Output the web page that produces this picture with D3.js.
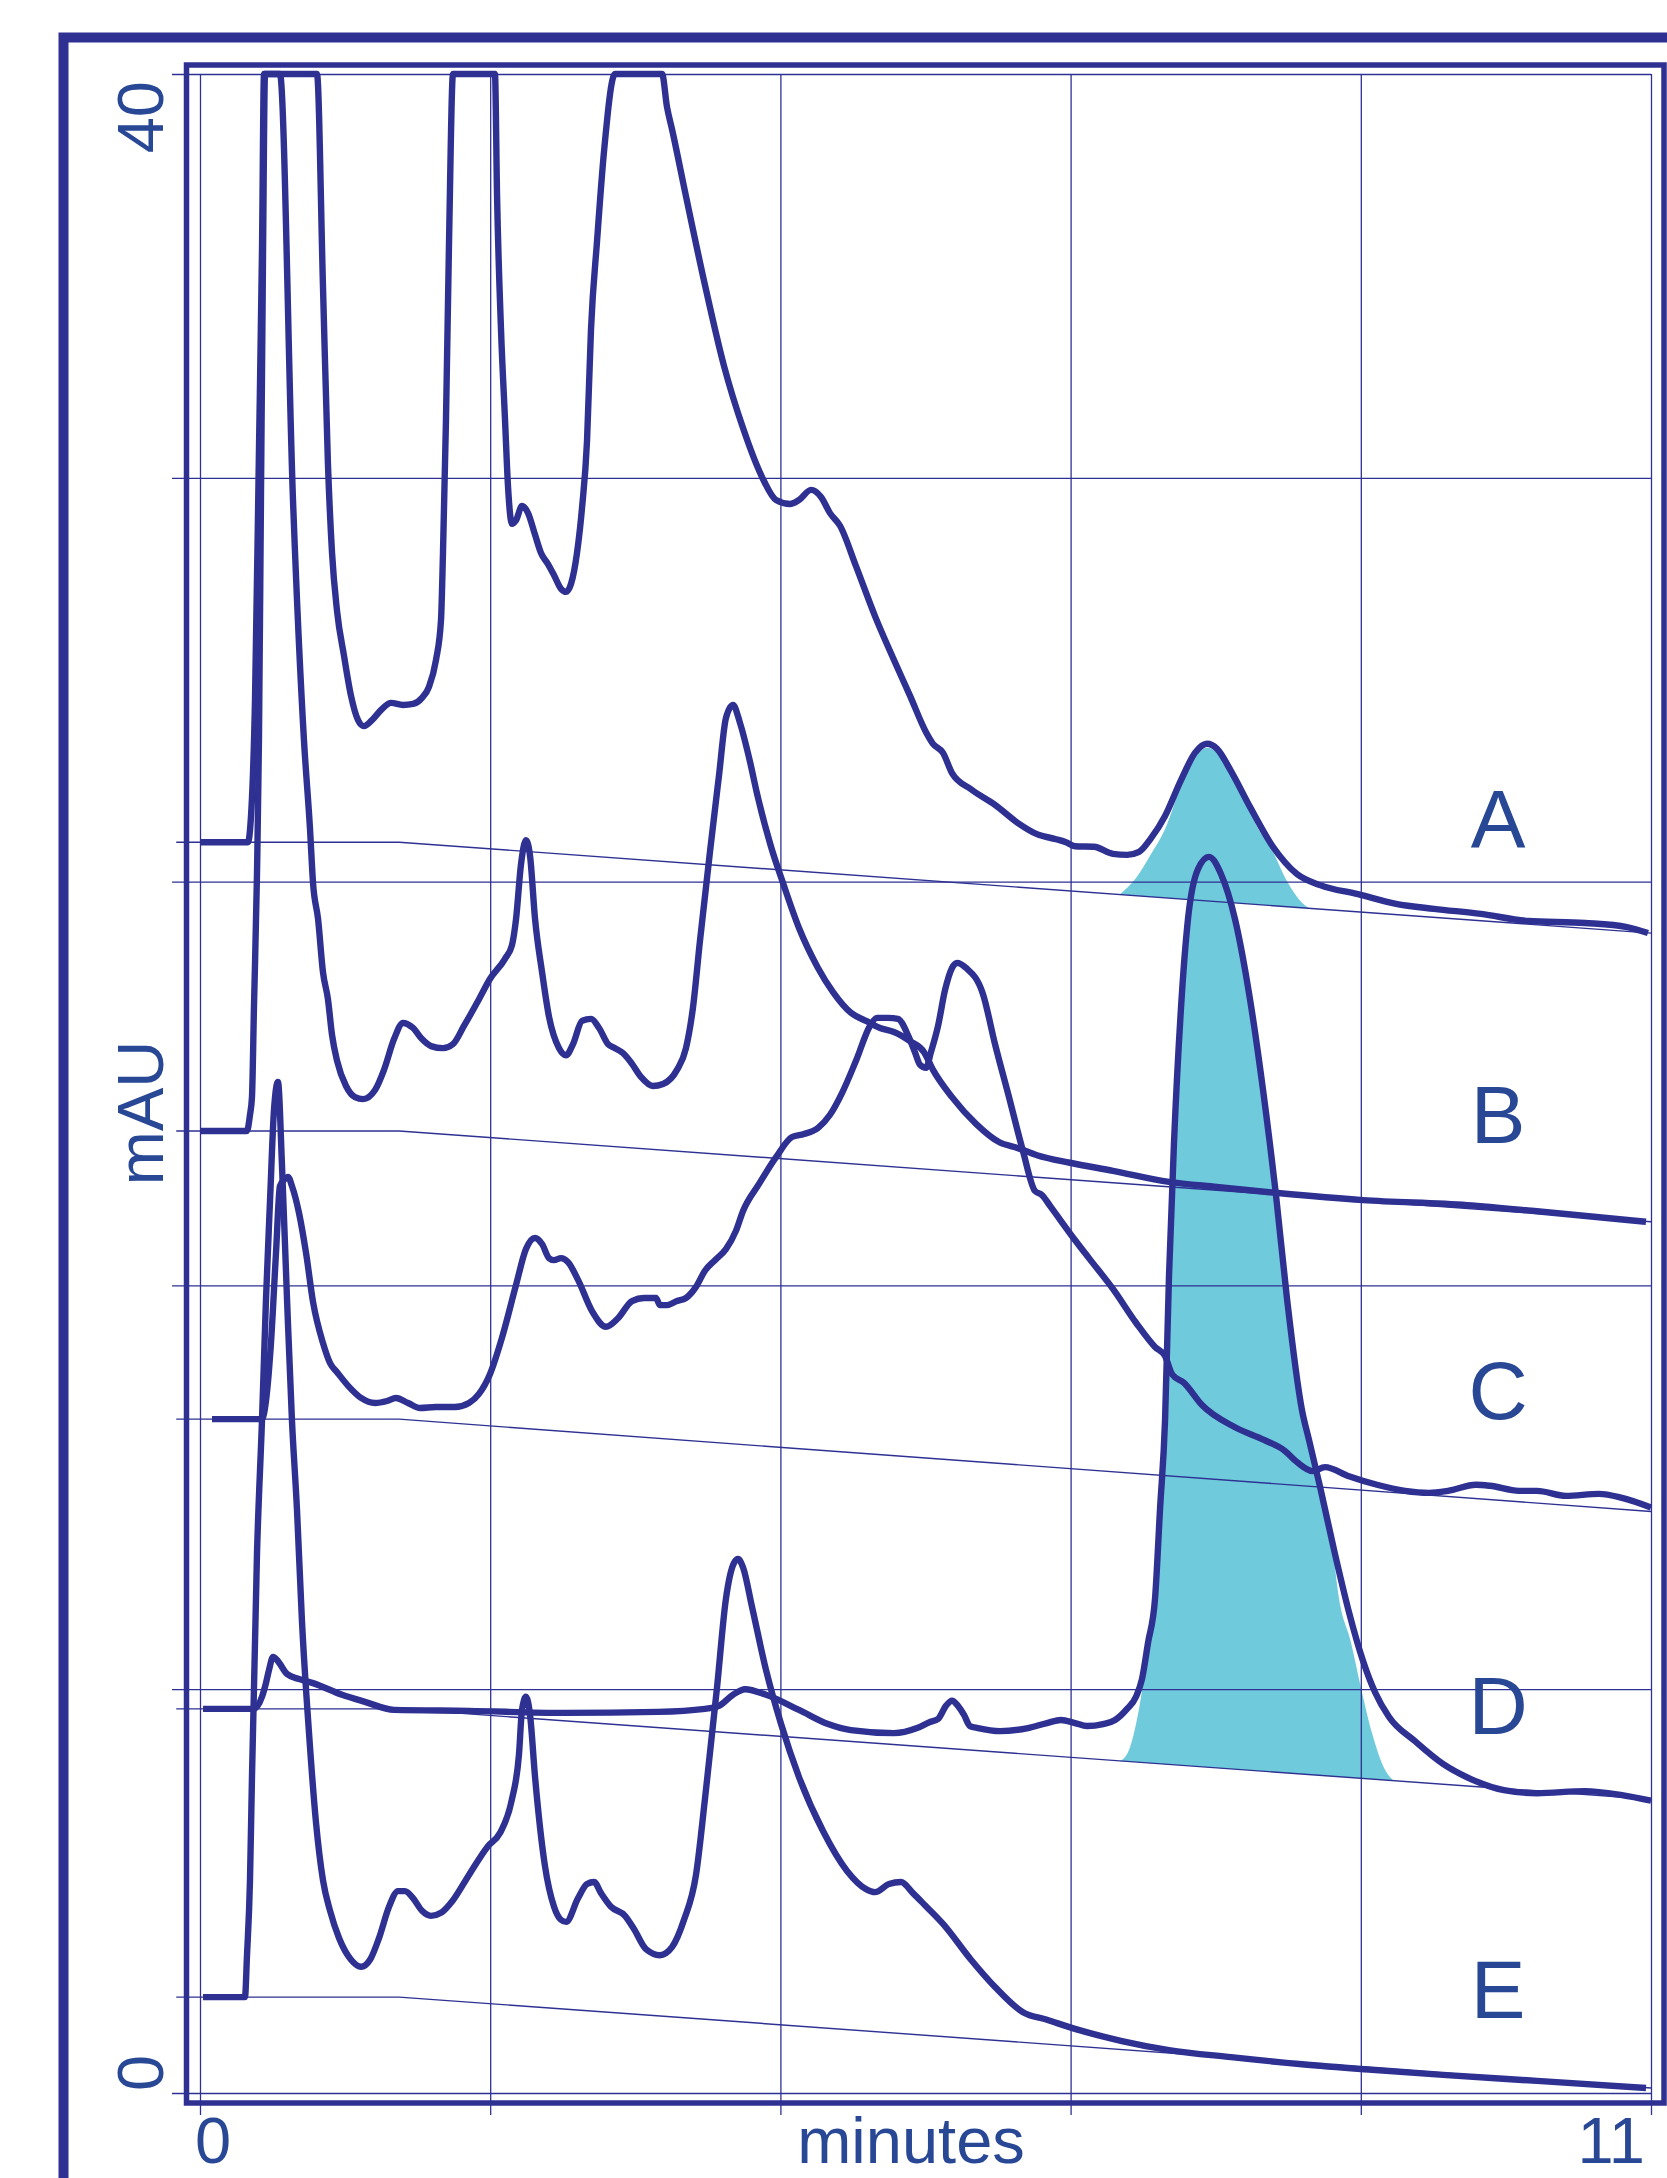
<!DOCTYPE html>
<html><head><meta charset="utf-8">
<script src="https://cdn.jsdelivr.net/npm/d3@7"></script>
<style>html,body{margin:0;padding:0;background:#fff}svg{display:block}</style>
</head><body><svg id="chart" width="1667" height="2178"></svg>
<script>
// ---------- data ----------
const traceNames = ["A","B","C","D","E"];
const baselineStart = [24.78, 19.06, 13.35, 7.61, 1.90];   // mAU at start of run
const baselineEnd   = [22.98, 17.26, 11.52, 5.82, 0.10];   // mAU at 11 min
const baselineKnee = 1.51;     // minutes where drift begins
const baselineFrom = -0.18;
const xGridTicks = [0, 2.2, 4.4, 6.6, 8.8, 11];
const yGridTicks = [0, 8, 16, 24, 32, 40];
const xTickLabels = [{v:0, t:"0"}, {v:11, t:"11"}];
const yTickLabels = [{v:0, t:"0"}, {v:40, t:"40"}];
const xTitle = "minutes";
const yTitle = "mAU";

const traceA = [[0,24.78],[0.364,24.78],[0.379,25.02],[0.417,27.6],[0.447,32.55],[0.47,36.51],[0.485,40],[0.887,40],[0.932,35.82],[0.97,32.27],[1.001,30.51],[1.039,29.36],[1.092,28.47],[1.145,27.68],[1.198,27.2],[1.243,27.08],[1.304,27.2],[1.38,27.42],[1.448,27.54],[1.539,27.5],[1.615,27.52],[1.683,27.64],[1.736,27.86],[1.789,28.39],[1.827,29.18],[1.842,30.51],[1.865,33.17],[1.888,36.69],[1.918,40],[2.236,40],[2.252,37.58],[2.282,34.93],[2.312,33.17],[2.335,31.83],[2.365,31.09],[2.396,31.16],[2.441,31.44],[2.487,31.3],[2.54,30.87],[2.585,30.51],[2.638,30.29],[2.684,30.07],[2.737,29.8],[2.775,29.74],[2.813,29.9],[2.858,30.51],[2.896,31.4],[2.934,32.73],[2.964,34.93],[3.01,36.69],[3.063,38.47],[3.146,40],[3.503,40],[3.54,39.35],[3.578,38.91],[3.684,37.58],[3.828,35.82],[3.972,34.22],[4.116,32.99],[4.26,32.02],[4.367,31.56],[4.473,31.48],[4.541,31.56],[4.632,31.76],[4.708,31.62],[4.776,31.3],[4.852,31.05],[4.973,30.25],[5.117,29.26],[5.261,28.39],[5.383,27.68],[5.504,26.96],[5.557,26.73],[5.633,26.55],[5.701,26.15],[5.845,25.83],[6.027,25.52],[6.201,25.16],[6.345,24.94],[6.489,24.84],[6.565,24.78],[6.633,24.7],[6.777,24.69],[6.921,24.55],[7.028,24.53],[7.119,24.59],[7.21,24.86],[7.316,25.3],[7.437,26.01],[7.543,26.55],[7.634,26.73],[7.71,26.63],[7.816,26.19],[7.96,25.48],[8.134,24.69],[8.316,24.15],[8.491,23.93],[8.779,23.75],[9.067,23.56],[9.355,23.46],[9.711,23.36],[10.068,23.22],[10.5,23.18],[10.818,23.1],[10.977,22.98]];

const traceB = [[0,19.06],[0.356,19.06],[0.379,19.38],[0.394,19.73],[0.409,21.5],[0.432,24.15],[0.447,26.81],[0.462,31.56],[0.478,36.51],[0.493,40],[0.606,40],[0.705,31.56],[0.788,26.81],[0.834,25.04],[0.857,23.97],[0.895,23.26],[0.932,22.21],[0.97,21.67],[1.001,20.96],[1.039,20.45],[1.107,19.95],[1.175,19.73],[1.236,19.69],[1.327,19.87],[1.395,20.27],[1.471,20.88],[1.539,21.2],[1.615,21.1],[1.683,20.88],[1.751,20.74],[1.842,20.7],[1.918,20.78],[2.001,21.14],[2.115,21.67],[2.198,22.07],[2.312,22.47],[2.365,22.74],[2.396,23.26],[2.433,24.33],[2.471,24.82],[2.502,24.51],[2.54,23.26],[2.593,22.21],[2.646,21.32],[2.722,20.7],[2.775,20.56],[2.828,20.78],[2.896,21.24],[2.964,21.28],[3.025,21.1],[3.093,20.78],[3.146,20.7],[3.207,20.6],[3.275,20.39],[3.343,20.13],[3.434,19.95],[3.51,19.99],[3.616,20.27],[3.684,20.7],[3.737,21.5],[3.79,22.82],[3.866,24.59],[3.934,26.09],[3.987,27.24],[4.041,27.5],[4.094,27.14],[4.17,26.37],[4.223,25.74],[4.329,24.69],[4.42,23.97],[4.541,23.08],[4.685,22.29],[4.799,21.81],[4.935,21.4],[5.049,21.24],[5.155,21.1],[5.261,21.02],[5.382,20.84],[5.489,20.62],[5.557,20.27],[5.701,19.73],[5.883,19.2],[6.057,18.84],[6.201,18.72],[6.345,18.58],[6.595,18.43],[6.921,18.27],[7.346,18.05],[7.71,17.95],[8.172,17.83],[8.817,17.69],[9.605,17.59],[10.135,17.47],[10.962,17.26]];

const traceC = [[0.091,13.35],[0.47,13.35],[0.5,13.71],[0.538,14.86],[0.576,16.64],[0.606,17.97],[0.637,18.09],[0.667,18.15],[0.697,17.97],[0.751,17.43],[0.804,16.64],[0.857,15.67],[0.932,14.86],[0.986,14.46],[1.039,14.28],[1.13,13.99],[1.221,13.77],[1.327,13.67],[1.418,13.71],[1.486,13.77],[1.577,13.67],[1.668,13.57],[1.789,13.59],[1.933,13.59],[2.039,13.67],[2.115,13.85],[2.198,14.24],[2.289,14.96],[2.396,16.01],[2.471,16.72],[2.54,16.94],[2.593,16.82],[2.646,16.54],[2.684,16.5],[2.737,16.54],[2.79,16.46],[2.866,16.11],[2.972,15.49],[3.078,15.18],[3.169,15.35],[3.275,15.69],[3.366,15.75],[3.457,15.75],[3.487,15.61],[3.54,15.61],[3.616,15.69],[3.684,15.75],[3.76,15.97],[3.828,16.29],[3.904,16.5],[3.987,16.72],[4.063,17.08],[4.116,17.47],[4.238,18.01],[4.367,18.54],[4.488,18.94],[4.579,19.0],[4.685,19.12],[4.776,19.38],[4.867,19.81],[4.973,20.45],[5.079,21.14],[5.132,21.3],[5.216,21.3],[5.291,21.28],[5.367,20.96],[5.42,20.62],[5.458,20.37],[5.504,20.31],[5.541,20.62],[5.595,21.14],[5.648,21.85],[5.701,22.29],[5.739,22.39],[5.807,22.29],[5.936,21.77],[6.027,20.78],[6.133,19.73],[6.239,18.66],[6.33,17.87],[6.383,17.79],[6.451,17.55],[6.633,16.9],[6.739,16.54],[6.921,15.93],[7.096,15.26],[7.24,14.78],[7.316,14.6],[7.369,14.24],[7.46,14.07],[7.596,13.63],[7.846,13.19],[8.066,12.94],[8.225,12.72],[8.316,12.5],[8.437,12.32],[8.528,12.4],[8.71,12.22],[8.923,12.05],[9.135,11.93],[9.317,11.89],[9.461,11.93],[9.673,12.05],[9.779,12.03],[9.999,11.93],[10.136,11.93],[10.356,11.83],[10.606,11.87],[10.78,11.79],[11.0,11.6]];

const traceD = [[0.023,7.61],[0.409,7.61],[0.47,7.85],[0.5,8.12],[0.523,8.38],[0.554,8.64],[0.584,8.58],[0.606,8.5],[0.66,8.3],[0.751,8.2],[0.857,8.12],[1.077,7.89],[1.251,7.75],[1.471,7.59],[2.039,7.57],[2.76,7.53],[3.472,7.55],[3.828,7.61],[3.934,7.67],[4.041,7.89],[4.132,8.0],[4.291,7.89],[4.541,7.59],[4.761,7.31],[4.935,7.19],[5.261,7.13],[5.436,7.23],[5.534,7.35],[5.595,7.41],[5.655,7.67],[5.701,7.77],[5.746,7.67],[5.792,7.49],[5.837,7.27],[5.898,7.23],[6.065,7.17],[6.277,7.23],[6.421,7.33],[6.527,7.39],[6.633,7.33],[6.724,7.27],[6.846,7.31],[6.937,7.39],[7.028,7.61],[7.096,7.85],[7.141,8.2],[7.187,8.92],[7.24,9.79],[7.278,11.57],[7.316,13.33],[7.346,16.19],[7.384,18.84],[7.437,21.5],[7.49,23.26],[7.566,24.25],[7.649,24.49],[7.74,24.15],[7.846,23.26],[7.96,21.67],[8.066,19.73],[8.157,17.79],[8.24,15.75],[8.354,13.53],[8.407,12.94],[8.491,12.01],[8.604,10.68],[8.71,9.53],[8.817,8.56],[8.908,7.94],[9.014,7.45],[9.211,6.97],[9.423,6.52],[9.635,6.22],[9.885,6.0],[10.136,5.94],[10.5,5.98],[10.78,5.9],[11.0,5.79]];

const traceE = [[0.023,1.9],[0.341,1.9],[0.356,2.71],[0.379,4.22],[0.394,6.26],[0.432,10.68],[0.47,13.33],[0.5,15.71],[0.531,17.69],[0.561,19.48],[0.591,20.03],[0.622,18.35],[0.66,15.71],[0.697,13.33],[0.735,11.57],[0.773,9.35],[0.826,7.15],[0.879,5.37],[0.932,4.22],[0.986,3.61],[1.054,3.07],[1.145,2.64],[1.221,2.5],[1.289,2.64],[1.357,3.07],[1.433,3.69],[1.501,4.0],[1.554,4.0],[1.615,3.86],[1.683,3.61],[1.751,3.51],[1.827,3.57],[1.918,3.82],[2.039,4.32],[2.183,4.89],[2.274,5.15],[2.365,5.82],[2.418,6.7],[2.441,7.59],[2.471,7.85],[2.502,7.49],[2.54,6.26],[2.615,4.5],[2.684,3.69],[2.737,3.43],[2.775,3.39],[2.866,3.86],[2.934,4.14],[2.987,4.18],[3.04,3.96],[3.116,3.69],[3.222,3.51],[3.29,3.25],[3.381,2.85],[3.487,2.73],[3.578,2.89],[3.669,3.43],[3.76,4.32],[3.828,5.82],[3.919,8.02],[3.987,9.79],[4.048,10.5],[4.079,10.58],[4.116,10.42],[4.185,9.63],[4.291,8.38],[4.405,7.31],[4.541,6.26],[4.723,5.19],[4.905,4.4],[5.049,4.04],[5.117,3.98],[5.223,4.14],[5.314,4.18],[5.405,3.96],[5.496,3.72],[5.633,3.35],[5.845,2.64],[6.027,2.1],[6.239,1.6],[6.421,1.45],[6.633,1.27],[6.989,1.03],[7.346,0.85],[7.816,0.71],[8.354,0.57],[8.885,0.46],[9.423,0.36],[10.136,0.24],[10.962,0.1]];

// integrated peak areas (shaded)
const peakFillA = [[6.974,23.75],[7.096,24.07],[7.202,24.51],[7.316,25.04],[7.437,25.9],[7.543,26.45],[7.634,26.65],[7.71,26.55],[7.816,26.12],[7.96,25.42],[7.99,25.22],[8.134,24.59],[8.24,24.01],[8.354,23.58],[8.407,23.47]];
const peakFillD = [[6.974,6.57],[7.043,6.8],[7.096,7.31],[7.134,7.85],[7.187,8.92],[7.24,9.79],[7.278,11.57],[7.316,13.33],[7.346,16.19],[7.384,18.84],[7.437,21.5],[7.49,23.2],[7.566,24.2],[7.649,24.4],[7.74,24.1],[7.846,23.2],[7.96,21.67],[8.066,19.73],[8.157,17.79],[8.24,15.75],[8.354,13.53],[8.491,12.01],[8.58,10.9],[8.635,9.79],[8.726,8.92],[8.802,8.02],[8.885,7.13],[8.976,6.44],[9.052,6.18]];
const peakFillTrace = [0, 3];   // index of trace each fill belongs to

const traces = [traceA, traceB, traceC, traceD, traceE];

// ---------- layout ----------
const navy = "#2e3192", textBlue = "#284795", cyan = "#6fcbdc";
const font = "'Liberation Sans', Arial, Helvetica, sans-serif";
const svg = d3.select("#chart");
const x = d3.scaleLinear().domain([0, 11]).range([200, 1651]);
const y = d3.scaleLinear().domain([0, 40]).range([2093, 74]);

function baselineAt(i, t) {
  if (t <= baselineKnee) return baselineStart[i];
  return baselineStart[i] + (baselineEnd[i] - baselineStart[i]) * (t - baselineKnee) / (11 - baselineKnee);
}

// outer frame
svg.append("path").attr("d", "M63.5,2200V37.5H1700")
  .attr("fill", "none").attr("stroke", navy).attr("stroke-width", 10);

// shaded peak areas
const fills = [peakFillA, peakFillD];
fills.forEach((f, k) => {
  const ti = peakFillTrace[k];
  svg.append("path").datum(f)
    .attr("fill", cyan)
    .attr("d", d3.area().curve(d3.curveMonotoneX)
      .x(d => x(d[0])).y0(d => y(baselineAt(ti, d[0]))).y1(d => y(d[1])));
});

// grid via axes
const gx = svg.append("g").attr("transform", "translate(0,74)")
  .call(d3.axisBottom(x).tickValues(xGridTicks).tickSize(2115 - 74).tickFormat(""));
gx.select(".domain").remove();
gx.selectAll("line").attr("stroke", navy).attr("stroke-width", 1.3);

const gy = svg.append("g").attr("transform", "translate(1651,0)")
  .call(d3.axisLeft(y).tickValues(yGridTicks).tickSize(1651 - 172).tickFormat(""));
gy.select(".domain").remove();
gy.selectAll("line").attr("stroke", navy).attr("stroke-width", 1.3);

// inner frame
svg.append("rect").attr("x", 186.5).attr("y", 65).attr("width", 1477.5).attr("height", 2038)
  .attr("fill", "none").attr("stroke", navy).attr("stroke-width", 5.5);

// drifting baselines
const thin = d3.line().x(d => x(d[0])).y(d => y(d[1]));
traceNames.forEach((n, i) => {
  const pts = [[baselineFrom, baselineStart[i]], [baselineKnee, baselineStart[i]], [11, baselineEnd[i]]];
  svg.append("path").datum(pts).attr("d", thin)
    .attr("fill", "none").attr("stroke", navy).attr("stroke-width", 1.4);
});

// chromatograms
const line = d3.line().curve(d3.curveMonotoneX).x(d => x(d[0])).y(d => y(Math.min(40, d[1])));
traces.forEach(tr => {
  svg.append("path").datum(tr).attr("d", line)
    .attr("fill", "none").attr("stroke", navy).attr("stroke-width", 6.4)
    .attr("stroke-linejoin", "round").attr("stroke-linecap", "butt");
});

// trace labels
const labelY = [847, 1143, 1419, 1734, 2018];
traceNames.forEach((n, i) => {
  svg.append("text").attr("x", 1498).attr("y", labelY[i]).attr("text-anchor", "middle")
    .attr("font-family", font).attr("font-size", 82).attr("fill", textBlue).text(n);
});

// axis texts
yTickLabels.forEach(d => {
  const yy = d.v === 40 ? y(d.v) + 7 : y(d.v) - 2;
  svg.append("text").attr("transform", `translate(163,${yy}) rotate(-90)`)
    .attr("text-anchor", d.v === 40 ? "end" : "start")
    .attr("font-family", font).attr("font-size", 65).attr("fill", textBlue).text(d.t);
});
svg.append("text").attr("transform", "translate(163,1113) rotate(-90)").attr("text-anchor", "middle")
  .attr("font-family", font).attr("font-size", 65).attr("fill", textBlue).text(yTitle);

xTickLabels.forEach(d => {
  svg.append("text").attr("x", d.v === 0 ? x(d.v) + 13 : x(d.v) - 6).attr("y", 2163)
    .attr("text-anchor", d.v === 0 ? "middle" : "end")
    .attr("font-family", font).attr("font-size", 65).attr("fill", textBlue).text(d.t);
});
svg.append("text").attr("x", 911).attr("y", 2163).attr("text-anchor", "middle")
  .attr("font-family", font).attr("font-size", 65).attr("fill", textBlue).text(xTitle);
</script>
</body></html>
